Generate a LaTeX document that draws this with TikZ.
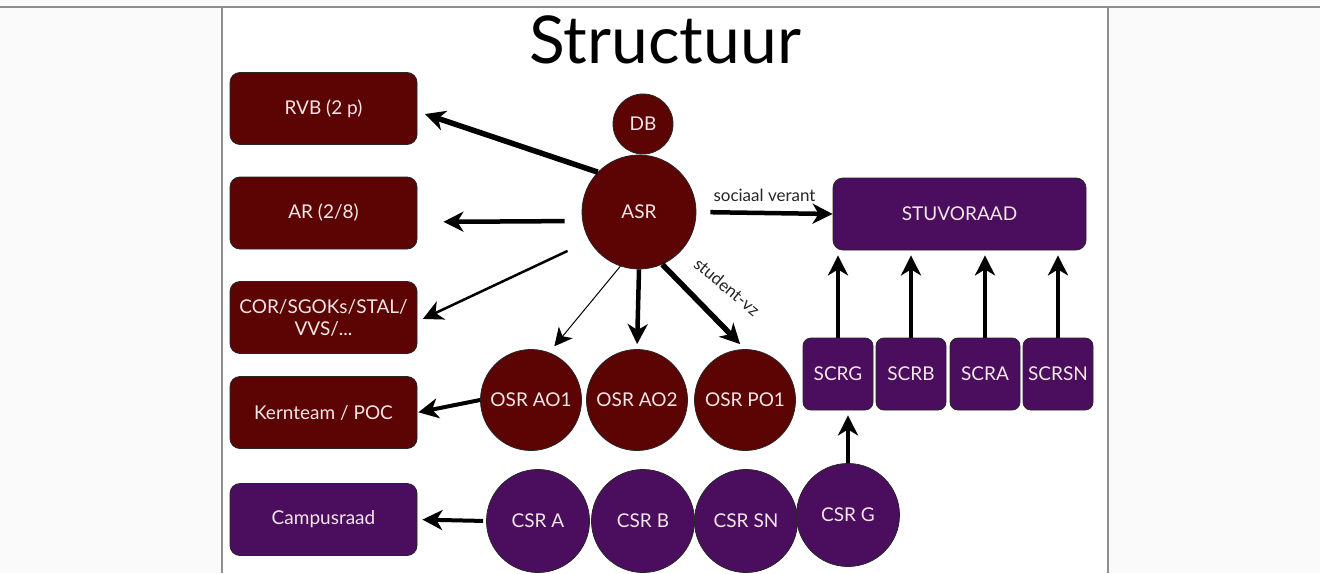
\documentclass[tikz,border=0pt]{standalone}
\usepackage{fontspec}
\setmainfont{Lato}
\usetikzlibrary{arrows.meta}
\definecolor{maroon}{HTML}{5C0303}
\definecolor{purp}{HTML}{4B0E5E}
\definecolor{lbl}{HTML}{F2E6E6}
\definecolor{frame}{HTML}{8E8E8E}
\begin{document}
\begin{tikzpicture}[x=1pt,y=-1pt,
  rbox/.style={draw=black!85, line width=0.8pt, fill=maroon, rounded corners=10pt,
    minimum width=187pt, minimum height=72pt, text=lbl,
    font=\fontsize{19}{22}\selectfont, align=center, inner sep=2pt},
  pbox/.style={rbox, fill=purp},
  sbox/.style={rbox, fill=purp, minimum width=70pt, rounded corners=8pt},
  rcirc/.style={circle, draw=black!85, line width=0.8pt, fill=maroon, text=lbl,
    font=\fontsize{19}{22}\selectfont, inner sep=0pt},
  pcirc/.style={rcirc, fill=purp},
  arr/.style={-{Stealth[length=20pt,width=20pt,inset=6pt]}, line width=4pt, black},
  elabel/.style={text=black!85, font=\fontsize{17}{19}\selectfont, inner sep=1pt}
]
\useasboundingbox (0,0) rectangle (1320,573);
\fill[black!2] (0,0) rectangle (1320,573);
\fill[white] (222,7) rectangle (1108,573);
\draw[frame, line width=1.5pt] (0,7) -- (1320,7);
\draw[frame, line width=1.5pt] (222,7) -- (222,573);
\draw[frame, line width=1.5pt] (1108,7) -- (1108,573);

\node[anchor=base, font=\fontsize{66}{70}\selectfont, text=black] (title) at (665,63) {Structuur};

% left boxes
\node[rbox] (rvb) at (323.5,108.5) {RVB (2 p)};
\node[rbox] (ar) at (323.5,213) {AR (2/8)};
\node[rbox] (cor) at (323.5,317.5) {COR/SGOKs/STAL/\\VVS/...};
\node[rbox] (kern) at (323.5,412.5) {Kernteam / POC};
\node[pbox] (campus) at (323.5,519.5) {Campusraad};

% circles
\node[rcirc, minimum size=60pt] (db) at (643,124) {DB};
\node[rcirc, minimum size=114pt] (asr) at (639,212) {ASR};
\node[rcirc, minimum size=101pt] (ao1) at (531,400) {OSR AO1};
\node[rcirc, minimum size=101pt] (ao2) at (637,400) {OSR AO2};
\node[rcirc, minimum size=101pt] (po1) at (745,400) {OSR PO1};
\node[pcirc, minimum size=103pt] (csra) at (538,521) {CSR A};
\node[pcirc, minimum size=103pt] (csrb) at (643,521) {CSR B};
\node[pcirc, minimum size=103pt] (csrsn) at (746,521) {CSR SN};
\node[pcirc, minimum size=103pt] (csrg) at (848,515) {CSR G};

% right boxes
\node[pbox, minimum width=253pt] (stu) at (959.5,214) {STUVORAAD};
\node[sbox] (scrg) at (838,374) {SCRG};
\node[sbox] (scrb) at (911,374) {SCRB};
\node[sbox] (scra) at (985,374) {SCRA};
\node[sbox] (scrsn) at (1058,374) {SCRSN};

% arrows from ASR
\draw[arr, line width=5.5pt, shorten >=8pt] (asr.136) -- ([yshift=-3pt]rvb.east);
\draw[arr, line width=4.5pt, shorten <=17pt, shorten >=26pt] ([yshift=-9pt]asr.west) -- ([yshift=-9pt]ar.east);
\draw[arr, line width=2.5pt, shorten <=24pt, shorten >=6pt] (asr.210) -- ([yshift=-4pt]cor.east);
\draw[arr, line width=1pt, -{Stealth[length=18pt,width=18pt,inset=5pt]}, shorten >=8pt] (asr.251) -- (ao1.69);
\draw[arr, line width=4.5pt, shorten >=5pt] (asr.south) -- (ao2.north);
\draw[arr, line width=5.5pt, shorten >=7pt] (asr.-66) -- (po1.north);
\node[elabel, rotate=-40] (svz) at (727,287) {student-vz};
\draw[arr, line width=4.5pt, shorten <=14pt] (asr.east) -- (stu.west)
  node[elabel, midway, above=8pt] (sv) {sociaal verant};

\draw[arr, line width=4pt, shorten >=1pt] (ao1.west) -- (kern.east);
\draw[arr, line width=4pt, shorten <=3pt, shorten >=5pt] (csra.west) -- (campus.east);

\draw[arr, line width=4pt, shorten >=5pt] (csrg.north) -- (scrg.south -| csrg.north);
\foreach \s in {scrg,scrb,scra,scrsn}
  \draw[arr, line width=4pt, shorten >=5pt] (\s.north) -- (\s.north |- stu.south);
\end{tikzpicture}
\end{document}
